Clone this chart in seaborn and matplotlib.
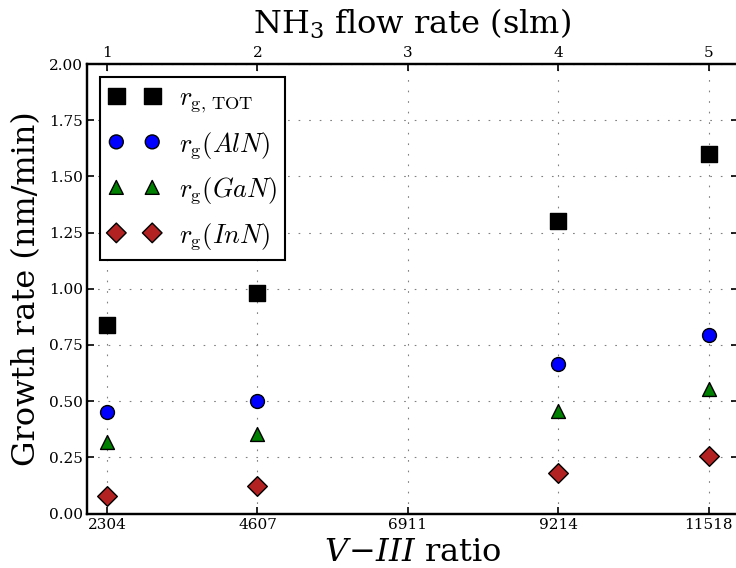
import matplotlib
matplotlib.use("Agg")
import matplotlib.pyplot as plt
import seaborn as sns
import pandas as pd
from matplotlib.font_manager import FontProperties

# ---- data ----
ratio = [2304, 4607, 9214, 11518]
r_tot = [0.84, 0.98, 1.30, 1.60]
r_aln = [0.452, 0.50, 0.666, 0.795]
r_gan = [0.318, 0.354, 0.457, 0.552]
r_inn = [0.078, 0.124, 0.179, 0.254]

bottom_ticks = [2304, 4607, 6911, 9214, 11518]
bottom_labels = ["2304", "4607", "6911", "9214", "11518"]
top_labels = ["1", "2", "3", "4", "5"]
y_ticks = [0.0, 0.25, 0.5, 0.75, 1.0, 1.25, 1.5, 1.75, 2.0]

sns.set_style("ticks", {"text.color": "black", "axes.labelcolor": "black",
                        "xtick.color": "black", "ytick.color": "black",
                        "axes.edgecolor": "black"})
plt.rcParams["font.family"] = ["DejaVu Serif"]

fig = plt.figure(figsize=(7.36, 5.68), dpi=100)
ax = fig.add_axes([87.3 / 736, (568 - 513.5) / 568, (737.5 - 87.3) / 736, (513.5 - 64) / 568])

series = [
    (r_tot, "s", "black", 144, r"$r_{\mathrm{g,\,TOT}}$"),
    (r_aln, "o", "#0000ff", 100, r"$r_{\mathrm{g}}(AlN)$"),
    (r_gan, "^", "#008000", 100, r"$r_{\mathrm{g}}(GaN)$"),
    (r_inn, "D", "#b22222", 100, r"$r_{\mathrm{g}}(InN)$"),
]
for vals, mk, col, s, lab in series:
    df = pd.DataFrame({"ratio": ratio, "rate": vals})
    sns.scatterplot(data=df, x="ratio", y="rate", marker=mk, color=col, s=s,
                    edgecolor="black", linewidth=1.0, label=lab, ax=ax, zorder=3)

ax.set_xlim(2000, 11960)
ax.set_ylim(0, 2.0)
ax.set_xticks(bottom_ticks)
ax.set_xticklabels(bottom_labels)
ax.set_yticks(y_ticks)
ax.set_yticklabels([f"{v:.2f}" for v in y_ticks])

for sp in ax.spines.values():
    sp.set_linewidth(1.6)
    sp.set_color("black")
    sp.set_visible(True)
ax.tick_params(direction="in", length=5, width=1.2, labelsize=11, pad=3,
               right=True, top=False, colors="black")
ax.grid(True, color="0.5", linewidth=0.8, linestyle=(0, (1.5, 8)))

lab_fp = FontProperties(family="DejaVu Serif", size=23, math_fontfamily="dejavuserif")
ax.set_xlabel(r"$V\!-\!III$ ratio", fontproperties=lab_fp, labelpad=3.5, color="black")
ax.set_ylabel("Growth rate (nm/min)", fontproperties=lab_fp, labelpad=5, color="black")

ax2 = ax.twiny()
ax2.set_xlim(ax.get_xlim())
ax2.set_xticks(bottom_ticks)
ax2.set_xticklabels(top_labels)
ax2.tick_params(direction="in", length=5, width=1.2, labelsize=11, pad=3, colors="black")
for sp in ax2.spines.values():
    sp.set_linewidth(1.6)
    sp.set_color("black")
ax2.set_xlabel(r"NH$_3$ flow rate (slm)", fontproperties=lab_fp, labelpad=8.5, color="black")

leg_fp = FontProperties(family="DejaVu Serif", size=19, math_fontfamily="cm")
leg = ax.legend(loc="upper left", scatterpoints=2, scatteryoffsets=[0.5],
                prop=leg_fp, frameon=True,
                fancybox=False, framealpha=1, edgecolor="black",
                borderaxespad=0.5, labelspacing=0.55, handlelength=1.96,
                handletextpad=0.7, borderpad=0.3)
leg.get_frame().set_linewidth(1.5)
for t in leg.get_texts():
    t.set_color("black")

fig.savefig("out.png", dpi=100)
